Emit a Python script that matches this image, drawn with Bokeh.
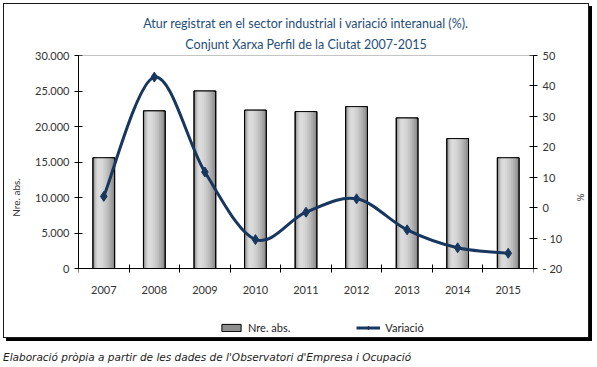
from bokeh.plotting import figure
from bokeh.layouts import column
from bokeh.core.properties import value
from bokeh.models import (Range1d, LinearAxis, FixedTicker, Legend, LegendItem, Title, Div, Span,
                          LabelSet, ColumnDataSource, CustomJSTickFormatter)
from bokeh.transform import dodge
from bokeh.embed import file_html
from bokeh.resources import INLINE

# ---------------- data ----------------
years = [2007, 2008, 2009, 2010, 2011, 2012, 2013, 2014, 2015]
year_labels = ["2007", "2008", "2009", "2010", "2011", "2012", "2013", "2014", "2015"]
nre_abs = [15600, 22200, 25000, 22300, 22100, 22800, 21200, 18300, 15600]
variacio = [3.7, 42.9, 11.7, -10.5, -1.5, 2.9, -7.3, -13.2, -15.0]
left_ticks = [0, 5000, 10000, 15000, 20000, 25000, 30000]
left_tick_labels = ["0", "5.000", "10.000", "15.000", "20.000", "25.000", "30.000"]
right_ticks = [-20, -10, 0, 10, 20, 30, 40, 50]
right_tick_labels = ["- 20", "- 10", "0", "10", "20", "30", "40", "50"]
series_names = ["Nre. abs.", "Variació"]
axis_titles = ["Nre. abs.", "%"]
title_lines = ["Atur registrat en el sector industrial i variació interanual (%).",
               "Conjunt Xarxa Perfil de la Ciutat 2007-2015"]
caption = "Elaboració pròpia a partir de les dades de l'Observatori d'Empresa i Ocupació"

# ---------------- styling / layout constants ----------------
FONT = "Lato"
NAVY = "#17375E"
TITLE_C = "#1F4E79"
TXT = "#333333"
FMT_CODE = "const i = tv.indexOf(tick); return i >= 0 ? tl[i] : String(tick);"

W, H = 586, 335
TOP, LEFT, RIGHT = 51, 74, 55        # px borders around the frame
PLOT_PX = 213                        # px between the 0 line and the top of the value axes
BELOW_PX = H - TOP - PLOT_PX         # frame continues below the 0 line (room for labels + legend)
Y0, Y1 = left_ticks[0], left_ticks[-1]
R0, R1 = right_ticks[0], right_ticks[-1]
y_per_px = (Y1 - Y0) / PLOT_PX
r_per_px = (R1 - R0) / PLOT_PX

p = figure(width=W, height=H, output_backend="svg", toolbar_location=None,
           x_range=Range1d(years[0] - 0.5, years[-1] + 0.5),
           y_range=Range1d(Y0 - BELOW_PX * y_per_px, Y1),
           min_border_left=LEFT, min_border_right=RIGHT, min_border_top=TOP, min_border_bottom=0,
           x_axis_type=None, y_axis_type=None)
p.styles = {"border": "1px solid #1a1a1a", "box-shadow": "3px 3px 0px #000000",
            "margin-left": "3px", "margin-top": "3px"}
p.xgrid.visible = False
p.ygrid.visible = False
p.background_fill_color = "white"
p.border_fill_color = "white"
p.outline_line_color = None
p.extra_y_ranges = {"pct": Range1d(R0 - BELOW_PX * r_per_px, R1)}

# top border line of the plot area
p.add_layout(Span(location=Y1, dimension="width", line_color="#8c8c8c", line_width=1))

# category axis: ticks between the years, drawn on the 0 line
boundaries = [y - 0.5 for y in years] + [years[-1] + 0.5]
ax_x = LinearAxis(ticker=FixedTicker(ticks=years, minor_ticks=boundaries), fixed_location=Y0,
                  formatter=CustomJSTickFormatter(code="return '';"))
ax_x.axis_line_color = "black"
ax_x.major_tick_line_color = None
ax_x.minor_tick_line_color = "black"
ax_x.minor_tick_in = 4
ax_x.minor_tick_out = 4
ax_x.major_label_standoff = 0
p.add_layout(ax_x, "above")

# title (plot title is outermost; the second line sits nearer the plot)
p.title.text = title_lines[0]
p.title.align = "center"
p.title.offset = -10
p.title.standoff = 1
p.title.text_font = FONT
p.title.text_font_size = "12.5px"
p.title.text_font_style = "normal"
p.title.text_color = TITLE_C
t2 = Title(text=title_lines[1], align="center", offset=-10, standoff=7, text_font=FONT,
           text_font_size="12.5px", text_font_style="normal", text_color=TITLE_C)
p.add_layout(t2, "above")

# value axes
ax_left = LinearAxis(ticker=FixedTicker(ticks=left_ticks), bounds=(Y0, Y1),
                     formatter=CustomJSTickFormatter(args=dict(tv=left_ticks, tl=left_tick_labels), code=FMT_CODE),
                     axis_label=axis_titles[0])
ax_right = LinearAxis(y_range_name="pct", ticker=FixedTicker(ticks=right_ticks), bounds=(R0, R1),
                      formatter=CustomJSTickFormatter(args=dict(tv=right_ticks, tl=right_tick_labels), code=FMT_CODE),
                      axis_label=axis_titles[1])
for ax in (ax_left, ax_right):
    ax.axis_line_color = "black"
    ax.major_tick_line_color = "black"
    ax.major_tick_in = 4
    ax.major_tick_out = 4
    ax.minor_tick_line_color = None
    ax.major_label_text_font = FONT
    ax.major_label_text_font_size = "11px"
    ax.major_label_text_color = TXT
    ax.major_label_standoff = 5
    ax.axis_label_text_font = FONT
    ax.axis_label_text_font_size = "10px"
    ax.axis_label_text_font_style = "normal"
    ax.axis_label_text_color = TXT
    ax.axis_label_standoff = 10
p.add_layout(ax_left, "left")
p.add_layout(ax_right, "right")

# year labels under the 0 line
YEAR_PX = 21
lab_src = ColumnDataSource(dict(x=years, y=[Y0 - YEAR_PX * y_per_px] * len(years), t=year_labels))
p.add_layout(LabelSet(x="x", y="y", text="t", source=lab_src, text_align="center",
                      text_baseline="middle", text_font=value(FONT), text_font_size=value("11px"),
                      text_color=TXT))

# bars with a cylinder-like gradient made from nested bars
src = ColumnDataSource(dict(x=years, top=nre_abs))
bar_w = 0.43
r_bar = p.vbar(x="x", top="top", bottom=Y0, width=bar_w, source=src,
               fill_color="#8f8f8f", line_color="black", line_width=1)
shades = ["#a0a0a0", "#afafaf", "#bcbcbc", "#c7c7c7", "#d0d0d0", "#d7d7d7", "#dbdbdb"]
for i, c in enumerate(shades):
    w = bar_w * (1 - (i + 1) / (len(shades) + 1.5)) - 0.01
    p.vbar(x=dodge("x", -0.013 * (i + 1), range=p.x_range), top="top", bottom=Y0, width=w, source=src,
           fill_color=c, line_color=None)
p.vbar(x="x", top="top", bottom=Y0, width=bar_w, source=src, fill_color=None,
       line_color="black", line_width=1)

# smoothed line (Bezier segments through the data points)
n = len(years)
def prev(i):
    return max(i - 1, 0)
def nxt(i):
    return min(i + 1, n - 1)
seg = dict(
    x0=years[:-1], y0=variacio[:-1], x1=years[1:], y1=variacio[1:],
    cx0=[years[i] + (years[nxt(i)] - years[prev(i)]) / 6 for i in range(n - 1)],
    cy0=[variacio[i] + (variacio[nxt(i)] - variacio[prev(i)]) / 6 for i in range(n - 1)],
    cx1=[years[i + 1] - (years[nxt(i + 1)] - years[prev(i + 1)]) / 6 for i in range(n - 1)],
    cy1=[variacio[i + 1] - (variacio[nxt(i + 1)] - variacio[prev(i + 1)]) / 6 for i in range(n - 1)],
)
r_curve = p.bezier(x0="x0", y0="y0", x1="x1", y1="y1", cx0="cx0", cy0="cy0", cx1="cx1", cy1="cy1",
                   source=ColumnDataSource(seg), line_color=NAVY, line_width=3, y_range_name="pct")
r_pts = p.scatter(x=years, y=variacio, marker="diamond", size=10, fill_color=NAVY, line_color=NAVY,
                  y_range_name="pct")

legend = Legend(items=[LegendItem(label=series_names[0], renderers=[r_bar]),
                       LegendItem(label=series_names[1], renderers=[r_curve, r_pts])],
                orientation="horizontal", location=(141, 5),
                border_line_color=None, background_fill_alpha=0, padding=0, margin=0,
                spacing=66, glyph_width=24, glyph_height=9, label_standoff=5,
                label_text_font=FONT, label_text_font_size="11px", label_text_color="#222222")
p.add_layout(legend, "center")

# caption under the boxed chart
cap = Div(text=caption, width=590, height=14,
          styles={"font-family": "DejaVu Sans", "font-style": "italic", "font-size": "10.5px",
                  "color": "#222222", "margin-left": "3px", "line-height": "14px"})

layout = column(p, cap, spacing=7)
open("out.html", "w").write(file_html(layout, INLINE))
